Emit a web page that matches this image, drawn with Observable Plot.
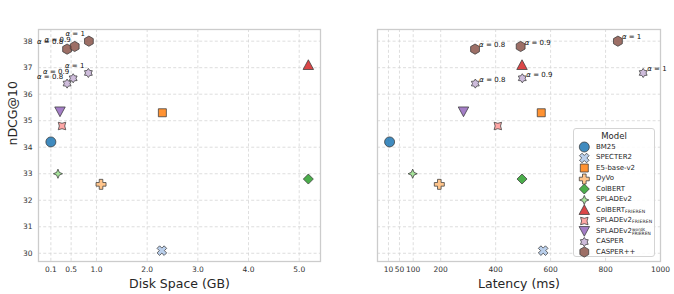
<!DOCTYPE html>
<html>
<head>
<meta charset="utf-8">
<script src="https://cdn.jsdelivr.net/npm/d3@7"></script>
<script src="https://cdn.jsdelivr.net/npm/@observablehq/plot@0.6"></script>
<style>
  body { margin: 0; background: #fff; }
  #chart { position: relative; width: 674px; height: 294px; font-family: "DejaVu Sans", sans-serif; color: #262626; }
  #chart > svg { position: absolute; top: 0; }
  .legend { position: absolute; left: 573px; top: 128px; width: 82px; height: 129px; box-sizing: border-box;
    border: 1px solid #d4d4d4; border-radius: 3px; background: rgba(255,255,255,0.85); }
  .legend .title { position: absolute; left: 0; right: 0; top: 2px; text-align: center; font-size: 8.5px; }
  .legend .row { position: absolute; left: 0; height: 10.5px; width: 100%; }
  .legend .row svg { position: absolute; left: 3px; top: -0.5px; }
  .legend .row span.lab { position: absolute; left: 22px; top: 0; font-size: 7px; line-height: 10.5px; white-space: nowrap; }
  .sub { font-size: 4.6px; vertical-align: -1px; letter-spacing: 0.1px; }
  .stk { display: inline-block; vertical-align: -2px; line-height: 3.6px; font-size: 4.4px; }
</style>
</head>
<body>
<div id="chart"></div>
<script>
// ---------- data ----------
const models = ["BM25", "SPECTER2", "E5-base-v2", "DyVo", "ColBERT", "SPLADEv2",
  "ColBERT_FRIEREN", "SPLADEv2_FRIEREN", "SPLADEv2_FRIEREN_words", "CASPER", "CASPER++"];
const colors = ["#1f77b4", "#aec7e8", "#ff7f0e", "#ffbb78", "#2ca02c", "#98df8a",
  "#d62728", "#ff9896", "#9467bd", "#c5b0d5", "#8c564b"];
// single-point models (first 9 models)
const diskGB    = [0.1, 2.29, 2.3, 1.09, 5.18, 0.24, 5.18, 0.32, 0.28];
const latencyMs = [14, 573, 566, 195, 496, 98, 496, 408, 283];
const ndcgAt10  = [34.2, 30.1, 35.3, 32.6, 32.8, 33.0, 37.1, 34.8, 35.35];
// CASPER variants
const alphas = ["0.8", "0.9", "1"];
const casperDisk = [0.42, 0.54, 0.84];
const casperLatency = [326, 497, 937];
const casperNdcg = [36.4, 36.6, 36.8];
const casperPPDisk = [0.42, 0.57, 0.85];
const casperPPLatency = [325, 491, 845];
const casperPPNdcg = [37.7, 37.8, 38.0];
// ticks
const diskTicks = [0.1, 0.5, 1, 2, 3, 4, 5];
const latencyTicks = [10, 50, 100, 200, 400, 600, 800, 1000];
const ndcgTicks = [30, 31, 32, 33, 34, 35, 36, 37, 38];

// ---------- rows ----------
const rows = [];
for (let i = 0; i < 9; i++) rows.push({model: models[i], disk: diskGB[i], latency: latencyMs[i], ndcg: ndcgAt10[i], alpha: null});
alphas.forEach((a, i) => rows.push({model: "CASPER", disk: casperDisk[i], latency: casperLatency[i], ndcg: casperNdcg[i], alpha: a}));
alphas.forEach((a, i) => rows.push({model: "CASPER++", disk: casperPPDisk[i], latency: casperPPLatency[i], ndcg: casperPPNdcg[i], alpha: a}));

// ---------- symbols ----------
function polySym(pts, k = 1) {
  return { draw(ctx, size) {
    const r = Math.sqrt(size / Math.PI) * k;
    pts.forEach(([x, y], i) => i ? ctx.lineTo(x * r, y * r) : ctx.moveTo(x * r, y * r));
    ctx.closePath();
  }};
}
function plusPts(w) {
  return [[-w,-1],[w,-1],[w,-w],[1,-w],[1,w],[w,w],[w,1],[-w,1],[-w,w],[-1,w],[-1,-w],[-w,-w]];
}
function starPts(n, inner, rot) {
  const p = [];
  for (let i = 0; i < 2 * n; i++) {
    const a = rot + i * Math.PI / n, rr = i % 2 ? inner : 1;
    p.push([Math.cos(a) * rr, Math.sin(a) * rr]);
  }
  return p;
}
function ngonPts(n, rot) {
  return Array.from({length: n}, (_, i) => [Math.cos(rot + i * 2 * Math.PI / n), Math.sin(rot + i * 2 * Math.PI / n)]);
}
const s2 = Math.SQRT1_2;
const symbols = [
  d3.symbolCircle,
  polySym(plusPts(0.36).map(([x, y]) => [(x - y) * s2, (x + y) * s2]), 1.0),
  polySym([[-1,-1],[1,-1],[1,1],[-1,1]], 0.8),
  polySym(plusPts(0.36), 1.0),
  polySym([[0,-1],[1,0],[0,1],[-1,0]], 1.0),
  polySym(starPts(4, 0.42, -Math.PI / 2), 1.0),
  polySym([[0,-1],[1,0.85],[-1,0.85]], 1.05),
  polySym([[-1,-1],[0,-0.72],[1,-1],[0.72,0],[1,1],[0,0.72],[-1,1],[-0.72,0]], 0.75),
  polySym([[0,1],[1,-0.85],[-1,-0.85]], 1.05),
  polySym(starPts(6, 0.62, -Math.PI / 2), 0.95),
  polySym(ngonPts(6, -Math.PI / 2), 1.02)
];
const radii = [5, 5, 5, 5, 5, 4.6, 5, 5, 5, 4.8, 5];

const yDomain = [29.69, 38.44];
const W = 337, H = 294;

function panel(o) {
  const gridStyle = {stroke: "#d6d6d6", strokeDasharray: "3,2.2", strokeOpacity: 1, strokeWidth: 0.8};
  const marks = [
    Plot.gridX(o.xTicks, gridStyle),
    Plot.gridY(ndcgTicks, gridStyle),
    Plot.frame({stroke: "#cccccc", strokeWidth: 1.3}),
    Plot.axisX(o.xTicks, {tickSize: 0, tickPadding: 5.5, tickFormat: o.xFormat, label: null, fill: "#333"})
  ];
  if (o.showY) marks.push(Plot.axisY(ndcgTicks, {tickSize: 0, tickPadding: 6, label: null, fill: "#333"}));
  models.forEach((m, i) => {
    marks.push(Plot.dot(rows.filter(d => d.model === m), {
      x: o.xKey, y: "ndcg", r: radii[i], symbol: symbols[i], fill: colors[i], fillOpacity: 0.85,
      stroke: "#3a3a3a", strokeWidth: 0.75
    }));
  });
  marks.push(Plot.text(rows.filter(d => d.alpha), {
    x: o.xKey, y: "ndcg", text: d => "α = " + d.alpha, textAnchor: o.anchor, dx: o.dx, dy: o.dy,
    fontSize: 7, fill: "#111"
  }));
  marks.push(Plot.text([o.xLabel], {text: d => d, frameAnchor: "bottom", dy: 22, fontSize: 12.5, lineAnchor: "middle", fill: "#262626"}));
  if (o.showY) marks.push(Plot.text(["nDCG@10"], {text: d => d, frameAnchor: "left", dx: -25.5, rotate: -90, fontSize: 12.5, lineAnchor: "middle", fill: "#262626"}));
  const svg = Plot.plot({
    width: W, height: H,
    marginLeft: o.ml, marginRight: o.mr, marginTop: 29, marginBottom: 33,
    style: {fontFamily: "DejaVu Sans", fontSize: "7.5px", background: "transparent", overflow: "visible"},
    x: {domain: o.xDomain, axis: null},
    y: {domain: yDomain, axis: null},
    marks
  });
  svg.querySelectorAll("text").forEach(t => {
    const s = t.textContent;
    if (s.startsWith("α = ")) {
      t.textContent = "";
      const a = document.createElementNS("http://www.w3.org/2000/svg", "tspan");
      a.setAttribute("font-style", "italic");
      a.textContent = "α";
      t.appendChild(a);
      t.appendChild(document.createTextNode(s.slice(1)));
    }
  });
  svg.style.left = o.left + "px";
  return svg;
}

const chart = document.getElementById("chart");
chart.appendChild(panel({
  xKey: "disk", xDomain: [-0.144, 5.42], xTicks: diskTicks, xFormat: d3.format(".1f"),
  xLabel: "Disk Space (GB)", showY: true, ml: 38, mr: 17, left: 0, anchor: "end", dx: -4, dy: -7
}));
chart.appendChild(panel({
  xKey: "latency", xDomain: [-30, 1000], xTicks: latencyTicks, xFormat: d => String(d),
  xLabel: "Latency (ms)", showY: false, ml: 40, mr: 14, left: 337, anchor: "start", dx: 4, dy: -4
}));

// ---------- legend ----------
const legendLabels = [
  "BM25", "SPECTER2", "E5-base-v2", "DyVo", "ColBERT", "SPLADEv2",
  'ColBERT<span class="sub">FRIEREN</span>',
  'SPLADEv2<span class="sub">FRIEREN</span>',
  'SPLADEv2<span class="stk">words<br>FRIEREN</span>',
  "CASPER", "CASPER++"
];
const legend = document.createElement("div");
legend.className = "legend";
legend.innerHTML = '<div class="title">Model</div>';
models.forEach((m, i) => {
  const row = document.createElement("div");
  row.className = "row";
  row.style.top = (12.75 + i * 10.5) + "px";
  const path = d3.symbol(symbols[i], Math.PI * radii[i] * radii[i])();
  row.innerHTML = `<svg width="15" height="12"><path d="${path}" transform="translate(7.3,6)" fill="${colors[i]}" fill-opacity="0.85" stroke="#3a3a3a" stroke-width="0.75"/></svg><span class="lab">${legendLabels[i]}</span>`;
  legend.appendChild(row);
});
chart.appendChild(legend);
</script>
</body>
</html>
